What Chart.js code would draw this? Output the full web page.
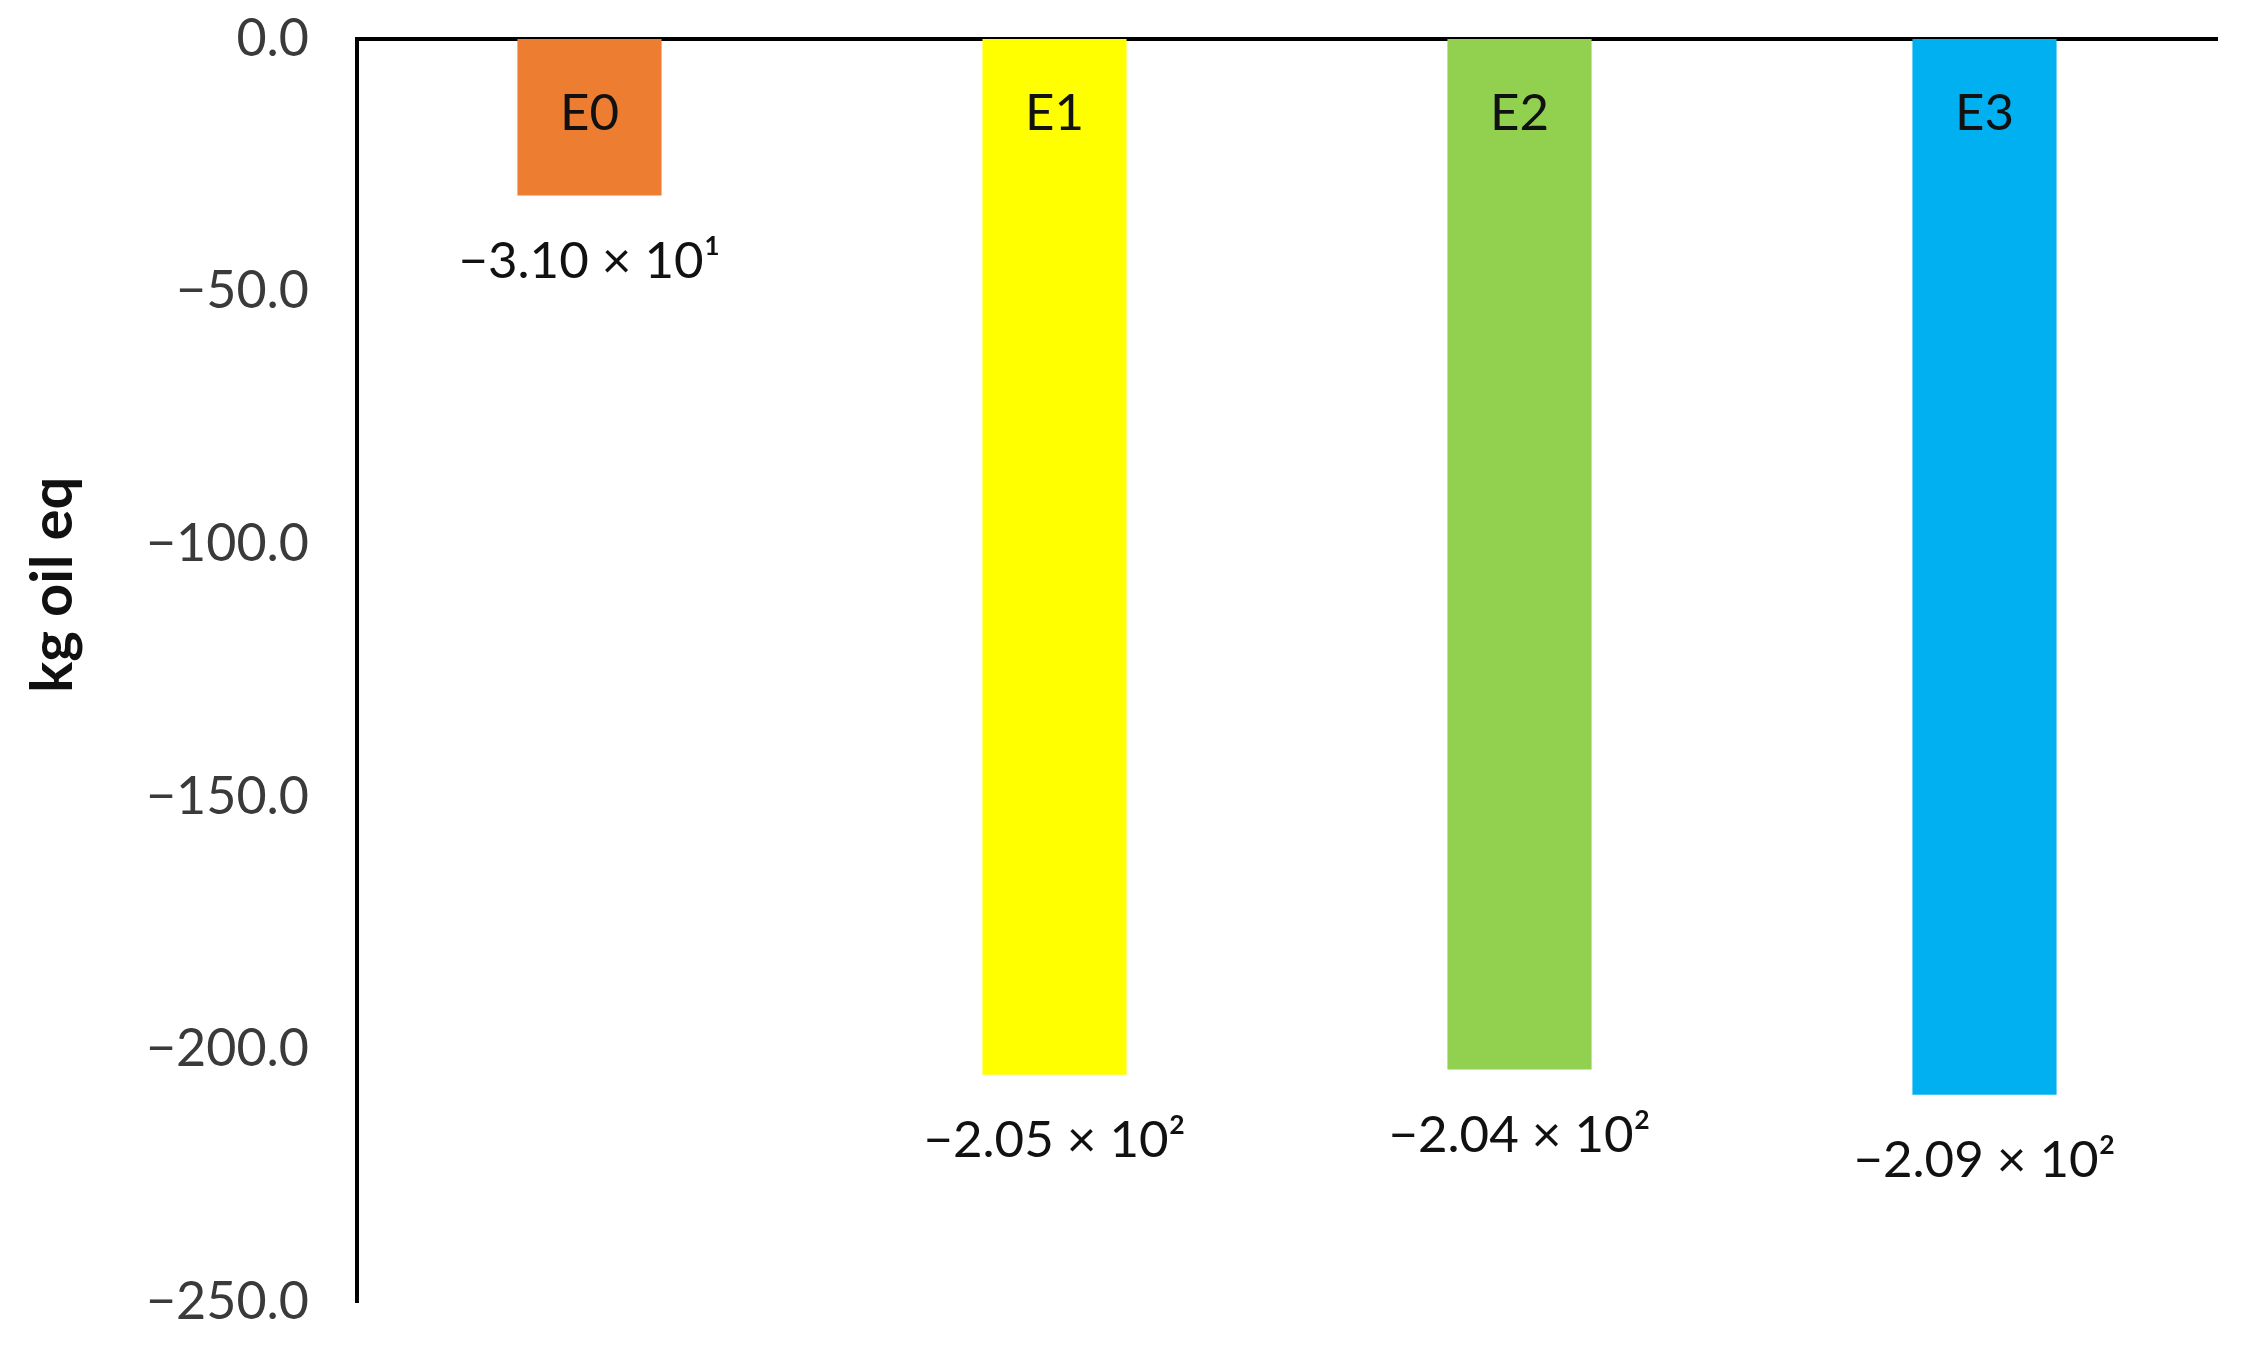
<!DOCTYPE html>
<html>
<head>
<meta charset="utf-8">
<script src="https://cdn.jsdelivr.net/npm/chart.js@4"></script>
<style>
html, body { margin: 0; padding: 0; background: #fff; }
#wrap { width: 2243px; height: 1346px; }
</style>
</head>
<body>
<div id="wrap"><canvas id="myChart"></canvas></div>
<script>
// data
const categories = ['E0', 'E1', 'E2', 'E3'];
const values = [-31.0, -205, -204, -209];
const valueLabels = ['\u22123.10 \u00d7 10\u00b9', '\u22122.05 \u00d7 10\u00b2', '\u22122.04 \u00d7 10\u00b2', '\u22122.09 \u00d7 10\u00b2'];
const barColors = ['#ED7D31', '#FFFF00', '#92D050', '#00B0F0'];
const yMin = -250, yMax = 0, yStep = 50;
const yTitle = 'kg oil eq';

// names inside the bars, values under them, axis title (sits above centre in the original)
const barText = {
  id: 'barText',
  afterDatasetsDraw(chart) {
    const ctx = chart.ctx;
    const y = chart.scales.y;
    const zero = y.getPixelForValue(0);
    ctx.save();
    ctx.fillStyle = '#111';
    ctx.textAlign = 'center';
    ctx.textBaseline = 'middle';
    ctx.font = '51px Lato';
    chart.getDatasetMeta(0).data.forEach((bar, i) => {
      ctx.fillText(categories[i], bar.x, zero + 75);
      ctx.fillText(valueLabels[i], bar.x, bar.y + 66);
    });
    // title
    ctx.font = 'bold 58px Lato';
    ctx.translate(53, y.getPixelForValue(-108));
    ctx.rotate(-Math.PI / 2);
    ctx.fillText(yTitle, 0, 0);
    ctx.restore();
  }
};

var ctx = document.getElementById('myChart').getContext('2d');
var myChart = new Chart(ctx, {
  type: 'bar',
  data: {
    labels: categories,
    datasets: [{
      data: values,
      backgroundColor: barColors,
      borderWidth: 0,
      categoryPercentage: 1,
      barPercentage: 0.31
    }]
  },
  options: {
    responsive: true,
    maintainAspectRatio: false,
    animation: false,
    layout: { padding: { left: 0, right: 26, top: 39, bottom: 44 } },
    plugins: {
      legend: { display: false },
      tooltip: { enabled: false }
    },
    scales: {
      x: {
        position: 'top',
        grid: { display: false, drawTicks: false },
        border: { display: true, color: '#000', width: 4 },
        ticks: { display: false },
        afterFit(scale) { scale.height = 0; }
      },
      y: {
        min: yMin,
        max: yMax,
        // tickLength only pushes the labels away from the axis; marks are not drawn
        grid: { display: false, drawTicks: true, tickLength: 48 },
        border: { display: true, color: '#000', width: 4 },
        ticks: {
          stepSize: yStep,
          padding: 0,
          color: '#3a3a3a',
          font: { family: 'Lato', size: 52 },
          callback: v => (v < 0 ? '\u2212' : '') + Math.abs(v).toFixed(1)
        },
        afterFit(scale) { scale.width = 357; }
      }
    }
  },
  plugins: [barText]
});
</script>
</body>
</html>
